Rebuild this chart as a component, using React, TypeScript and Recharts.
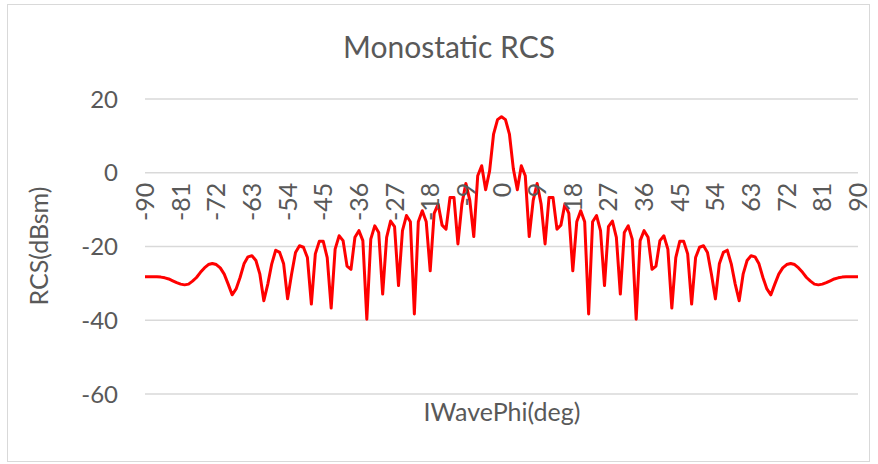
import React from 'react';
import { LineChart, Line, XAxis, YAxis, CartesianGrid } from 'recharts';

// incidence angle, deg
const PHI = [
  -90, -89, -88, -87, -86, -85, -84, -83, -82, -81,
  -80, -79, -78, -77, -76, -75, -74, -73, -72, -71,
  -70, -69, -68, -67, -66, -65, -64, -63, -62, -61,
  -60, -59, -58, -57, -56, -55, -54, -53, -52, -51,
  -50, -49, -48, -47, -46, -45, -44, -43, -42, -41,
  -40, -39, -38, -37, -36, -35, -34, -33, -32, -31,
  -30, -29, -28, -27, -26, -25, -24, -23, -22, -21,
  -20, -19, -18, -17, -16, -15, -14, -13, -12, -11,
  -10, -9, -8, -7, -6, -5, -4, -3, -2, -1,
  0, 1, 2, 3, 4, 5, 6, 7, 8, 9,
  10, 11, 12, 13, 14, 15, 16, 17, 18, 19,
  20, 21, 22, 23, 24, 25, 26, 27, 28, 29,
  30, 31, 32, 33, 34, 35, 36, 37, 38, 39,
  40, 41, 42, 43, 44, 45, 46, 47, 48, 49,
  50, 51, 52, 53, 54, 55, 56, 57, 58, 59,
  60, 61, 62, 63, 64, 65, 66, 67, 68, 69,
  70, 71, 72, 73, 74, 75, 76, 77, 78, 79,
  80, 81, 82, 83, 84, 85, 86, 87, 88, 89,
  90,
];

// monostatic RCS, dBsm
const RCS = [
  -28.2, -28.2, -28.2, -28.2, -28.3, -28.5, -28.8, -29.3, -29.8, -30.2,
  -30.4, -30.2, -29.4, -28.4, -27.0, -25.8, -24.9, -24.6, -24.9, -25.8,
  -27.5, -30.2, -33.1, -31.5, -28.4, -24.7, -22.8, -22.5, -23.8, -27.5,
  -34.7, -30.2, -24.7, -21.0, -21.6, -24.7, -34.2, -27.5, -21.6, -19.8,
  -20.2, -23.0, -35.6, -22.0, -18.6, -18.6, -23.0, -36.7, -20.7, -17.1,
  -18.4, -25.3, -26.2, -17.5, -15.7, -18.4, -39.7, -18.0, -14.4, -16.2,
  -32.9, -17.5, -13.1, -14.6, -30.6, -15.7, -11.6, -13.3, -38.3, -13.3,
  -10.3, -13.3, -26.6, -11.0, -8.5, -14.2, -15.3, -6.7, -6.7, -19.3,
  -8.5, -2.9, -7.5, -17.3, -0.8, 1.9, -4.6, 0.5, 10.5, 14.4,
  15.2, 14.4, 10.5, 1.0, -4.6, 1.9, -0.8, -17.3, -7.5, -2.9,
  -8.5, -19.3, -6.7, -6.7, -15.3, -14.2, -8.5, -11.0, -26.6, -13.3,
  -10.3, -13.3, -38.3, -13.3, -11.6, -15.7, -30.6, -14.6, -13.1, -17.5,
  -32.9, -16.2, -14.4, -18.0, -39.7, -18.4, -15.7, -17.5, -26.2, -25.3,
  -18.4, -17.1, -20.7, -36.7, -23.0, -18.6, -18.6, -22.0, -35.6, -23.0,
  -20.2, -19.8, -21.6, -27.5, -34.2, -24.7, -21.6, -21.0, -24.7, -30.2,
  -34.7, -27.5, -23.8, -22.5, -22.8, -24.7, -28.4, -31.5, -33.1, -30.2,
  -27.5, -25.8, -24.9, -24.6, -24.9, -25.8, -27.0, -28.4, -29.4, -30.2,
  -30.4, -30.2, -29.8, -29.3, -28.8, -28.5, -28.3, -28.2, -28.2, -28.2,
  -28.2,
];

const X_TICKS = [-90, -81, -72, -63, -54, -45, -36, -27, -18, -9, 0, 9, 18, 27, 36, 45, 54, 63, 72, 81, 90];
const Y_TICKS = [-60, -40, -20, 0, 20];
const Y_MIN = -60;
const Y_MAX = 20;

const data = PHI.map((phi, i) => ({ phi, rcs: RCS[i] }));

const W = 878;
const H = 464;
const PLOT_TOP = 99;
const PLOT_BOTTOM = 394;
const FONT = 'Lato, "Open Sans", sans-serif';
const TEXT = '#595959';

// the category labels sit just under the 0 dB line, as in Excel
const zeroY = PLOT_TOP + ((PLOT_BOTTOM - PLOT_TOP) * Y_MAX) / (Y_MAX - Y_MIN);

function PhiTick(props: any) {
  const { x, payload } = props;
  const y = zeroY + 10;
  return (
    <text
      x={x}
      y={y}
      dy="0.36em"
      transform={`rotate(-90 ${x} ${y})`}
      textAnchor="end"
      fill={TEXT}
      fontSize={25}
      fontFamily={FONT}
    >
      {payload.value}
    </text>
  );
}

export default function App() {
  return (
    <div style={{ position: 'absolute', left: 0, top: 0, width: W, height: H, background: '#fff', fontFamily: FONT }}>
      <div
        style={{
          position: 'absolute',
          left: 7,
          top: 4,
          width: 863,
          height: 458,
          border: '1px solid #d9d9d9',
          boxSizing: 'border-box',
        }}
      />
      <div style={{ position: 'absolute', left: 249, top: 28, width: 400, textAlign: 'center', fontSize: 30, color: TEXT }}>
        Monostatic RCS
      </div>
      <div
        style={{
          position: 'absolute',
          left: 38,
          top: 246,
          transform: 'translate(-50%, -50%) rotate(-90deg)',
          whiteSpace: 'nowrap',
          fontSize: 25,
          color: TEXT,
        }}
      >
        RCS(dBsm)
      </div>
      <div style={{ position: 'absolute', left: 302, top: 396, width: 400, textAlign: 'center', fontSize: 25, color: TEXT }}>
        IWavePhi(deg)
      </div>
      <div style={{ position: 'absolute', left: 0, top: 0 }}>
        <LineChart width={W} height={H} data={data} margin={{ top: PLOT_TOP, right: 20, bottom: 0, left: 0 }}>
          <CartesianGrid vertical={false} stroke="#d9d9d9" strokeWidth={1.5} />
          <XAxis
            dataKey="phi"
            type="number"
            domain={[-90, 90]}
            ticks={X_TICKS}
            interval={0}
            height={H - PLOT_BOTTOM}
            axisLine={false}
            tickLine={false}
            tick={<PhiTick />}
          />
          <YAxis
            domain={[Y_MIN, Y_MAX]}
            ticks={Y_TICKS}
            width={145}
            axisLine={false}
            tickLine={false}
            tickMargin={21}
            tick={{ fill: TEXT, fontSize: 24, fontFamily: FONT }}
          />
          <Line
            type="linear"
            dataKey="rcs"
            stroke="#ff0000"
            strokeWidth={3}
            strokeLinejoin="round"
            dot={false}
            isAnimationActive={false}
          />
        </LineChart>
      </div>
    </div>
  );
}
